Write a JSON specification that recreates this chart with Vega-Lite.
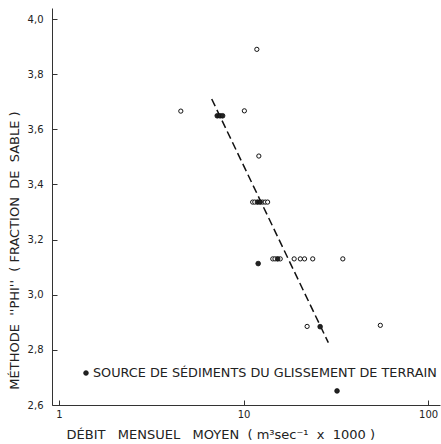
{
  "$schema": "https://vega.github.io/schema/vega-lite/v6.json",
  "autosize": "none",
  "padding": {"left": 52, "top": 8, "right": 1, "bottom": 39},
  "width": 388,
  "height": 397,
  "background": "white",
  "config": {
    "view": {"stroke": null},
    "font": "DejaVu Sans",
    "axis": {"grid": false, "domainColor": "#333", "tickColor": "#333", "labelColor": "#222", "titleColor": "#222", "labelFont": "DejaVu Sans", "titleFont": "DejaVu Sans", "titleFontWeight": "normal", "labelFontSize": 10, "titleFontSize": 13}
  },
  "datasets": {
    "pts": [
      {"x": 4.57, "y": 3.666, "type": "open"},
      {"x": 7.2, "y": 3.649, "type": "filled"},
      {"x": 7.46, "y": 3.649, "type": "filled"},
      {"x": 7.7, "y": 3.649, "type": "filled"},
      {"x": 10.1, "y": 3.667, "type": "open"},
      {"x": 11.8, "y": 3.89, "type": "open"},
      {"x": 12.1, "y": 3.503, "type": "open"},
      {"x": 11.2, "y": 3.336, "type": "open"},
      {"x": 11.5, "y": 3.336, "type": "open"},
      {"x": 11.9, "y": 3.336, "type": "filled"},
      {"x": 12.3, "y": 3.336, "type": "filled"},
      {"x": 12.7, "y": 3.336, "type": "open"},
      {"x": 13.1, "y": 3.336, "type": "open"},
      {"x": 13.5, "y": 3.336, "type": "open"},
      {"x": 14.4, "y": 3.13, "type": "open"},
      {"x": 14.8, "y": 3.13, "type": "open"},
      {"x": 15.3, "y": 3.13, "type": "filled"},
      {"x": 15.8, "y": 3.13, "type": "open"},
      {"x": 18.8, "y": 3.13, "type": "open"},
      {"x": 20.3, "y": 3.13, "type": "open"},
      {"x": 21.4, "y": 3.13, "type": "open"},
      {"x": 23.7, "y": 3.13, "type": "open"},
      {"x": 34.5, "y": 3.13, "type": "open"},
      {"x": 12.0, "y": 3.113, "type": "filled"},
      {"x": 22.1, "y": 2.885, "type": "open"},
      {"x": 26.0, "y": 2.884, "type": "filled"},
      {"x": 55.1, "y": 2.889, "type": "open"},
      {"x": 32.1, "y": 2.651, "type": "filled"}
    ],
    "fit": [
      {"x": 6.72, "y": 3.71},
      {"x": 28.8, "y": 2.826}
    ],
    "legend": [
      {"x": 1.4, "y": 2.716, "label": "SOURCE DE SÉDIMENTS DU GLISSEMENT DE TERRAIN"}
    ]
  },
  "layer": [
    {
      "data": {"name": "fit"},
      "mark": {"type": "line", "color": "#111", "strokeWidth": 1.5, "strokeDash": [8, 4]},
      "encoding": {
        "x": {"field": "x", "type": "quantitative", "scale": {"type": "log", "domain": [0.916, 116], "nice": false},
          "axis": {"values": [1, 10, 100], "labelExpr": "datum.value", "tickSize": -5, "labelPadding": 9, "title": "DÉBIT\u00a0\u00a0\u00a0MENSUEL\u00a0\u00a0\u00a0MOYEN\u00a0\u00a0( m³sec⁻¹\u00a0\u00a0x\u00a0\u00a01000 )", "titlePadding": 9, "titleAnchor": "start", "titleX": 14}},
        "y": {"field": "y", "type": "quantitative", "scale": {"domain": [2.6, 4.04], "nice": false, "zero": false},
          "axis": {"values": [2.6, 2.8, 3.0, 3.2, 3.4, 3.6, 3.8, 4.0], "labelExpr": "replace(format(datum.value, '.1f'), '.', ',')", "tickSize": -5, "labelPadding": 14, "title": "MÉTHODE\u00a0\u00a0''PHI''\u00a0\u00a0(\u00a0FRACTION\u00a0\u00a0DE\u00a0\u00a0SABLE\u00a0)", "titleAnchor": "middle", "titleAlign": "center", "titleX": -38, "titleY": 242, "titleBaseline": "middle"}}
      }
    },
    {
      "data": {"name": "pts"},
      "transform": [{"filter": "datum.type == 'open'"}],
      "mark": {"type": "point", "shape": "circle", "size": 18, "filled": false, "stroke": "#111", "strokeWidth": 1, "fill": "white", "opacity": 1},
      "encoding": {
        "x": {"field": "x", "type": "quantitative"},
        "y": {"field": "y", "type": "quantitative"}
      }
    },
    {
      "data": {"name": "pts"},
      "transform": [{"filter": "datum.type == 'filled'"}],
      "mark": {"type": "point", "shape": "circle", "size": 22, "filled": true, "fill": "#222", "stroke": "#111", "strokeWidth": 0.8, "opacity": 1},
      "encoding": {
        "x": {"field": "x", "type": "quantitative"},
        "y": {"field": "y", "type": "quantitative"}
      }
    },
    {
      "data": {"name": "legend"},
      "mark": {"type": "point", "shape": "circle", "size": 22, "filled": true, "fill": "#222", "stroke": "#111", "strokeWidth": 0.8, "opacity": 1},
      "encoding": {
        "x": {"field": "x", "type": "quantitative"},
        "y": {"field": "y", "type": "quantitative"}
      }
    },
    {
      "data": {"name": "legend"},
      "mark": {"type": "text", "align": "left", "baseline": "middle", "dx": 7, "fontSize": 12.8, "font": "DejaVu Sans", "color": "#222"},
      "encoding": {
        "x": {"field": "x", "type": "quantitative"},
        "y": {"field": "y", "type": "quantitative"},
        "text": {"field": "label"}
      }
    }
  ]
}
